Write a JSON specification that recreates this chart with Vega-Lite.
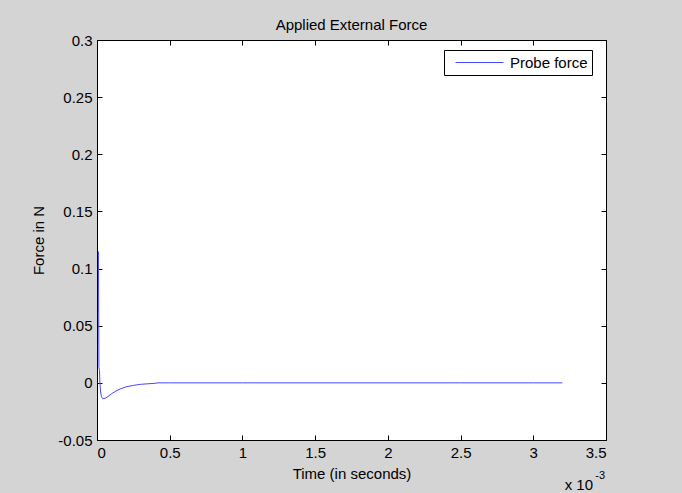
{
  "$schema": "https://vega.github.io/schema/vega-lite/v6.json",
  "width": 509,
  "height": 400,
  "autosize": {"type": "none"},
  "padding": {"left": 97, "top": 40, "right": 76, "bottom": 53},
  "background": "#d4d4d4",
  "config": {
    "font": "Liberation Sans",
    "view": {"fill": "white", "stroke": "#000", "strokeWidth": 1},
    "axis": {
      "grid": false,
      "domainColor": "#000",
      "tickColor": "#000",
      "labelColor": "#000",
      "titleColor": "#000",
      "labelFontSize": 15,
      "titleFontSize": 15,
      "titleFontWeight": "normal",
      "tickSize": -5,
      "labelFont": "Liberation Sans",
      "titleFont": "Liberation Sans"
    }
  },
  "title": {"text": "Applied External Force", "fontSize": 15, "fontWeight": "normal", "color": "#000", "offset": 0, "font": "Liberation Sans"},
  "datasets": {
    "force": [
      {"t": 0.00001, "F": 0.115, "series": "Probe force"},
      {"t": 0.0000115, "F": 0.06, "series": "Probe force"},
      {"t": 0.000013, "F": 0.0135, "series": "Probe force"},
      {"t": 0.000017, "F": 0.011, "series": "Probe force"},
      {"t": 0.00002, "F": 0.0, "series": "Probe force"},
      {"t": 0.000025, "F": -0.008, "series": "Probe force"},
      {"t": 0.000031, "F": -0.0122, "series": "Probe force"},
      {"t": 0.00004, "F": -0.0139, "series": "Probe force"},
      {"t": 0.000055, "F": -0.0135, "series": "Probe force"},
      {"t": 0.000075, "F": -0.012, "series": "Probe force"},
      {"t": 0.0001, "F": -0.0095, "series": "Probe force"},
      {"t": 0.00013, "F": -0.0072, "series": "Probe force"},
      {"t": 0.00016, "F": -0.0053, "series": "Probe force"},
      {"t": 0.0002, "F": -0.0035, "series": "Probe force"},
      {"t": 0.00025, "F": -0.0022, "series": "Probe force"},
      {"t": 0.0003, "F": -0.0013, "series": "Probe force"},
      {"t": 0.00035, "F": -0.0008, "series": "Probe force"},
      {"t": 0.0004, "F": -0.0004, "series": "Probe force"},
      {"t": 0.00042, "F": 0.0, "series": "Probe force"},
      {"t": 0.0005, "F": 0.0, "series": "Probe force"},
      {"t": 0.001, "F": 0.0, "series": "Probe force"},
      {"t": 0.0015, "F": 0.0, "series": "Probe force"},
      {"t": 0.002, "F": 0.0, "series": "Probe force"},
      {"t": 0.0025, "F": 0.0, "series": "Probe force"},
      {"t": 0.003, "F": 0.0, "series": "Probe force"},
      {"t": 0.0032, "F": 0.0, "series": "Probe force"}
    ],
    "note": [{"t": 0.0035, "F": -0.05, "text": "x 10"}],
    "exp": [{"t": 0.0035, "F": -0.05, "text": "-3"}]
  },
  "layer": [
    {
      "data": {"name": "force"},
      "mark": {"type": "line", "strokeWidth": 1, "clip": true},
      "encoding": {
        "x": {
          "field": "t", "type": "quantitative",
          "scale": {"domain": [0, 0.0035], "nice": false, "zero": false},
          "axis": {
            "values": [0, 0.0005, 0.001, 0.0015, 0.002, 0.0025, 0.003, 0.0035],
            "labelExpr": "format(datum.value*1000, '.3~g')",
            "title": "Time (in seconds)",
            "labelPadding": 10,
            "titlePadding": 6
          }
        },
        "y": {
          "field": "F", "type": "quantitative",
          "scale": {"domain": [-0.05, 0.3], "nice": false, "zero": false},
          "axis": {
            "values": [-0.05, 0, 0.05, 0.1, 0.15, 0.2, 0.25, 0.3],
            "labelExpr": "replace(format(datum.value, '.2~f'), '\u2212', '-')",
            "title": "Force in N",
            "labelPadding": 10,
            "titlePadding": 11
          }
        },
        "color": {
          "field": "series", "type": "nominal",
          "scale": {"range": ["#4848ff"]},
          "legend": {
            "title": null,
            "orient": "none",
            "legendX": 347,
            "legendY": 10,
            "strokeColor": "#000",
            "fillColor": "#fff",
            "padding": 4,
            "symbolType": "M-3,0H3",
            "symbolSize": 256,
            "symbolStrokeWidth": 1,
            "symbolFillColor": "transparent",
            "labelFontSize": 15,
            "labelFont": "Liberation Sans",
            "labelColor": "#000",
            "labelOffset": 22,
            "symbolOffset": 23,
            "cornerRadius": 0
          }
        }
      }
    },
    {
      "data": {"name": "force"},
      "mark": {"type": "line", "opacity": 0},
      "encoding": {
        "x": {
          "field": "t", "type": "quantitative",
          "axis": {"orient": "top", "labels": false, "title": null, "values": [0, 0.0005, 0.001, 0.0015, 0.002, 0.0025, 0.003, 0.0035]}
        },
        "y": {
          "field": "F", "type": "quantitative",
          "axis": {"orient": "right", "labels": false, "title": null, "values": [-0.05, 0, 0.05, 0.1, 0.15, 0.2, 0.25, 0.3]}
        }
      }
    },
    {
      "data": {"name": "note"},
      "mark": {"type": "text", "align": "right", "baseline": "middle", "dx": -13, "dy": 45, "fontSize": 15, "font": "Liberation Sans", "color": "#000"},
      "encoding": {
        "x": {"field": "t", "type": "quantitative", "axis": null},
        "y": {"field": "F", "type": "quantitative", "axis": null},
        "text": {"field": "text"}
      }
    },
    {
      "data": {"name": "exp"},
      "mark": {"type": "text", "align": "right", "baseline": "middle", "dx": -1, "dy": 36, "fontSize": 11, "font": "Liberation Sans", "color": "#000"},
      "encoding": {
        "x": {"field": "t", "type": "quantitative", "axis": null},
        "y": {"field": "F", "type": "quantitative", "axis": null},
        "text": {"field": "text"}
      }
    }
  ],
  "resolve": {"axis": {"x": "independent", "y": "independent"}}
}
